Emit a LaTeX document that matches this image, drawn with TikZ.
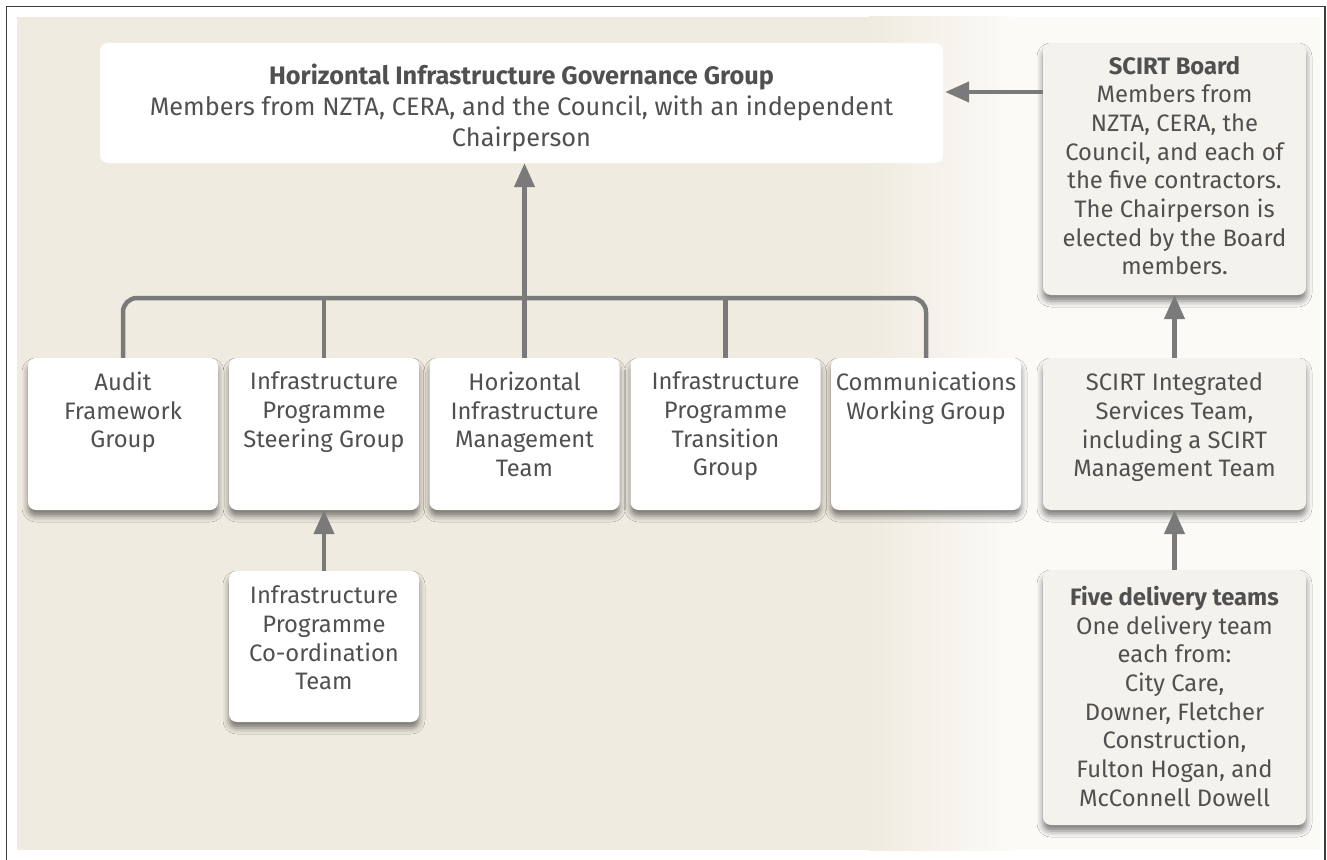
\documentclass[tikz,border=0pt]{standalone}
\usepackage{fontspec}
\setmainfont{Fira Sans}
\usetikzlibrary{arrows.meta,shadows.blur}
\definecolor{panel}{RGB}{240,235,224}
\definecolor{panelright}{RGB}{251,250,247}
\definecolor{ink}{RGB}{80,80,80}
\definecolor{link}{RGB}{122,122,122}
\definecolor{sidebox}{RGB}{244,242,236}
\definecolor{frameline}{RGB}{60,60,60}
\begin{document}
\begin{tikzpicture}[x=1pt,y=-1pt,
  plainbox/.style={fill=white, draw=none, rounded corners=8pt, inner sep=0pt},
  card/.style={plainbox, blur shadow={shadow xshift=0pt, shadow yshift=-6pt,
      shadow blur radius=6pt, shadow opacity=50}},
  rowbox/.style={card, minimum width=190pt, minimum height=152pt},
  sidecard/.style={card, fill=sidebox, minimum width=263pt},
  txt/.style={inner sep=0pt, align=center, text=ink, anchor=north,
      font=\fontsize{23.8}{28.7}\selectfont},
  bigtxt/.style={txt, font=\fontsize{25.3}{31}\selectfont},
  link/.style={draw=link, line width=4.5pt},
  uplink/.style={link, -{Triangle[length=24pt,width=20pt]}},
]
\useasboundingbox (0,0) rectangle (1327,859);

% page background and frame
\fill[white] (0,0) rectangle (1327,859);
\fill[panel] (17,17) rectangle (870,850);
\shade[left color=panel, right color=panelright] (869,17) rectangle (1011,850);
\fill[panelright] (1010,17) rectangle (1320,850);
\draw[frameline, line width=1.5pt] (6.5,870) -- (6.5,6.5) -- (1325,6.5) -- (1325,870);

% governance group
\node[plainbox, minimum width=843pt, minimum height=120pt] (gov) at (521.5,103) {};
\node[bigtxt] (gov-t) at ([yshift=-21pt]gov.north)
  {\textbf{Horizontal Infrastructure Governance Group}\\
   Members from NZTA, CERA, and the Council, with an independent\\
   Chairperson};

% row of groups
\node[rowbox] (audit) at (123,434) {};
\node[rowbox] (steer) at (324,434) {};
\node[rowbox] (himt)  at (524.5,434) {};
\node[rowbox] (trans) at (725.5,434) {};
\node[rowbox] (comms) at (926,434) {};
\node[rowbox, minimum height=151pt] (coord) at (324,646.5) {};

\node[txt] (audit-t) at ([yshift=-14pt]audit.north) {Audit\\Framework\\Group};
\node[txt] (steer-t) at ([yshift=-14pt]steer.north) {Infrastructure\\Programme\\Steering Group};
\node[txt] (himt-t)  at ([yshift=-14pt]himt.north)  {Horizontal\\Infrastructure\\Management\\Team};
\node[txt] (trans-t) at ([yshift=-14pt]trans.north) {Infrastructure\\Programme\\Transition\\Group};
\node[txt] (comms-t) at ([yshift=-14pt]comms.north) {Communications\\Working Group};
\node[txt] (coord-t) at ([yshift=-15pt]coord.north) {Infrastructure\\Programme\\Co-ordination\\Team};

% SCIRT column
\node[sidecard, minimum height=252pt] (board) at (1174.5,169) {};
\node[sidecard, minimum height=152pt] (integ) at (1174.5,434) {};
\node[sidecard, minimum height=255pt] (deliv) at (1174.5,697.5) {};

\node[txt] (board-t) at ([yshift=-13pt]board.north)
  {\textbf{SCIRT Board}\\Members from\\NZTA, CERA, the\\Council, and each of\\the five contractors.\\The Chairperson is\\elected by the Board\\members.};
\node[txt] (integ-t) at ([yshift=-15pt]integ.north)
  {SCIRT Integrated\\Services Team,\\including a SCIRT\\Management Team};
\node[txt] (deliv-t) at ([yshift=-16pt]deliv.north)
  {\textbf{Five delivery teams}\\One delivery team\\each from:\\City Care,\\Downer, Fletcher\\Construction,\\Fulton Hogan, and\\McConnell Dowell};

% reporting lines
\coordinate (bus) at (524.5,298);
\draw[link, rounded corners=14pt] (audit.north) -- (audit.north |- bus)
  -- (comms.north |- bus) -- (comms.north);
\draw[link] (steer.north) -- (steer.north |- bus);
\draw[link] (trans.north) -- (trans.north |- bus);
\draw[uplink] (himt.north) -- (himt.north |- gov.south);
\draw[uplink] (coord.north) -- (steer.south);
\coordinate (boardout) at ([yshift=77pt]board.west);
\draw[uplink] (boardout) -- ([xshift=2pt]boardout -| gov.east);
\draw[uplink] (integ.north) -- (board.south);
\draw[uplink] (deliv.north) -- (integ.south);
\end{tikzpicture}
\end{document}
